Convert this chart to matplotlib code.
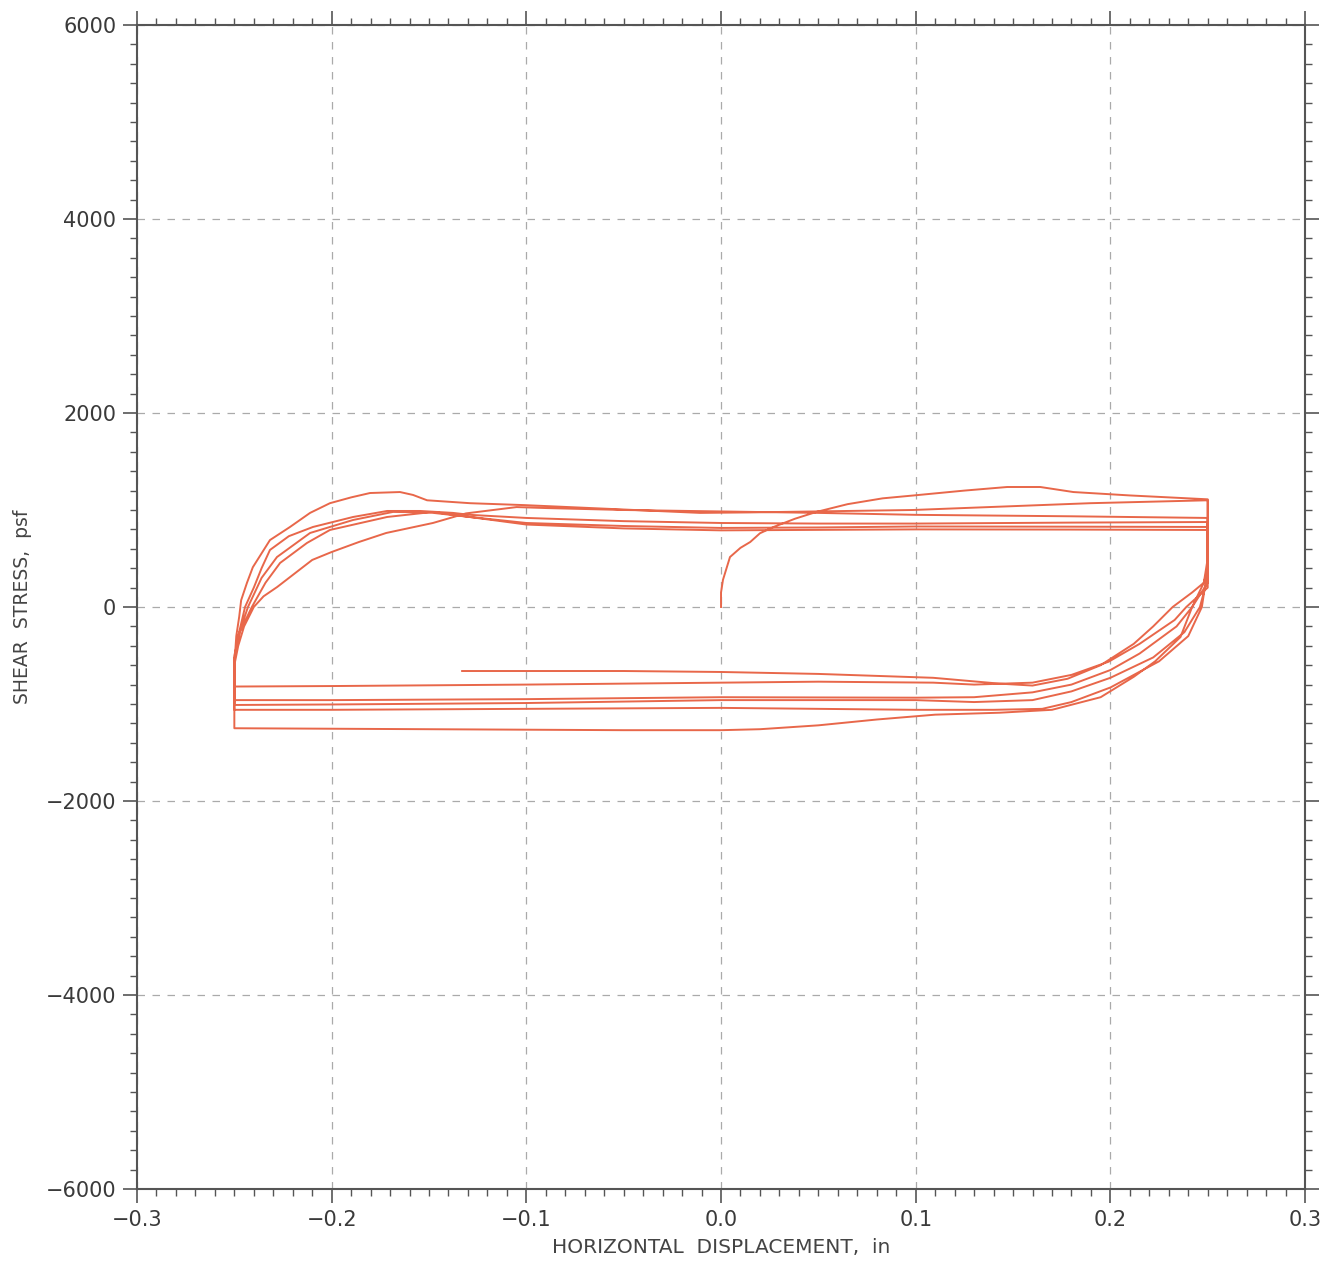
import numpy as np
import matplotlib
matplotlib.use("Agg")
import matplotlib.pyplot as plt
from matplotlib.ticker import MultipleLocator, FuncFormatter

# ---- data (horizontal displacement in, shear stress psf) ----
# cycle 1 loading to the right
r1_x = [0.0, 0.0, 0.001, 0.0046, 0.01, 0.015, 0.02, 0.027, 0.038, 0.049, 0.065, 0.083, 0.099, 0.125, 0.147, 0.164, 0.181, 0.21, 0.25]
r1_y = [0, 150, 280, 515, 610, 670, 760, 825, 910, 980, 1060, 1120, 1150, 1200, 1237, 1237, 1185, 1150, 1110]
# cycle 1 reversal to the left
l1_x = [0.25, 0.25, 0.248, 0.242, 0.236, 0.223, 0.212, 0.195, 0.17, 0.143, 0.11, 0.08, 0.05, 0.02, 0.0, -0.05, -0.1, -0.15, -0.2, -0.25]
l1_y = [1110, 500, 250, 0, -310, -560, -720, -930, -1060, -1090, -1110, -1160, -1220, -1260, -1270, -1270, -1265, -1260, -1255, -1250]
# cycle 2
r2_x = [-0.25, -0.25, -0.249, -0.2475, -0.2465, -0.2435, -0.2405, -0.2317, -0.2214, -0.2111, -0.2009, -0.19, -0.1803, -0.1649,
        -0.1582, -0.151, -0.1289, -0.1007, -0.0452, -0.0108, 0.0149, 0.0986, 0.1896, 0.25]
r2_y = [-1250, -600, -300, -100, 70, 250, 410, 690, 825, 970, 1070, 1130, 1175, 1185, 1155, 1100, 1070, 1050, 1000, 970, 975, 1000, 1070, 1100]
l2_x = [0.25, 0.25, 0.247, 0.24, 0.225, 0.2, 0.18, 0.165, 0.14, 0.1, 0.05, 0.0, -0.1, -0.2, -0.25]
l2_y = [1100, 400, 0, -300, -560, -830, -980, -1050, -1060, -1060, -1050, -1040, -1050, -1060, -1060]
# cycle 3
r3_x = [-0.25, -0.25, -0.248, -0.245, -0.24, -0.235, -0.228, -0.21, -0.2, -0.186, -0.172, -0.148, -0.131, -0.105,
        -0.09, -0.05, 0.0, 0.05, 0.1, 0.18, 0.25]
r3_y = [-1060, -600, -400, -200, 0, 110, 206, 485, 567, 670, 763, 866, 965, 1030, 1020, 1000, 985, 970, 950, 935, 918]
l3_x = [0.25, 0.25, 0.246, 0.238, 0.222, 0.2, 0.18, 0.16, 0.13, 0.1, 0.05, 0.0, -0.1, -0.2, -0.25]
l3_y = [918, 300, 0, -260, -520, -730, -870, -960, -980, -960, -960, -960, -990, -1005, -1010]
# cycle 4
r4_x = [-0.25, -0.25, -0.248, -0.2445, -0.24, -0.236, -0.2317, -0.222, -0.2096, -0.189, -0.1715, -0.1546, -0.1377, -0.129,
        -0.1, -0.05, 0.0, 0.05, 0.1, 0.18, 0.25]
r4_y = [-1010, -550, -300, 0, 200, 400, 588, 730, 825, 928, 990, 990, 970, 950, 918, 885, 866, 860, 860, 870, 876]
l4_x = [0.25, 0.25, 0.242, 0.234, 0.215, 0.2, 0.18, 0.16, 0.13, 0.1, 0.0, -0.1, -0.2, -0.25]
l4_y = [876, 250, 0, -200, -480, -650, -800, -880, -930, -935, -930, -950, -960, -960]
# cycle 5
r5_x = [-0.25, -0.25, -0.248, -0.243, -0.236, -0.2281, -0.2111, -0.189, -0.1685, -0.15, -0.13, -0.1,
        -0.05, 0.0, 0.05, 0.1, 0.18, 0.25]
r5_y = [-960, -550, -300, 0, 300, 515, 763, 897, 980, 975, 930, 866, 835, 815, 820, 830, 828, 825]
l5_x = [0.25, 0.25, 0.239, 0.233, 0.215, 0.199, 0.18, 0.16, 0.13, 0.109, 0.05, 0.0, -0.1, -0.2, -0.25]
l5_y = [825, 200, 0, -134, -380, -565, -700, -780, -800, -780, -770, -780, -800, -815, -820]
# cycle 6 (test stopped on the way back)
r6_x = [-0.25, -0.25, -0.247, -0.241, -0.234, -0.2265, -0.2127, -0.2009, -0.1715, -0.148, -0.13, -0.1,
        -0.05, 0.0, 0.05, 0.1, 0.18, 0.25]
r6_y = [-820, -500, -250, 0, 250, 454, 660, 794, 928, 980, 930, 850, 810, 790, 795, 800, 798, 794]
l6_x = [0.25, 0.25, 0.248, 0.242, 0.232, 0.222, 0.212, 0.195, 0.178, 0.16, 0.143, 0.109, 0.05, 0.0, -0.05, -0.1, -0.133]
l6_y = [794, 400, 250, 150, 0, -200, -380, -600, -740, -810, -790, -730, -690, -670, -660, -660, -660]

segments_x = [r1_x, l1_x, r2_x, l2_x, r3_x, l3_x, r4_x, l4_x, r5_x, l5_x, r6_x, l6_x]
segments_y = [r1_y, l1_y, r2_y, l2_y, r3_y, l3_y, r4_y, l4_y, r5_y, l5_y, r6_y, l6_y]
disp = np.concatenate(segments_x)
stress = np.concatenate(segments_y)

plt.rcParams['font.family'] = ['DejaVu Sans']

fig = plt.figure(figsize=(13.34, 12.68), dpi=100)
ax = fig.add_axes([0.1027, 0.0623, 0.8756, 0.918])

ax.plot(disp, stress, color='#e8674a', lw=1.4, zorder=3, solid_joinstyle='round')

ax.set_xlim(-0.3, 0.3)
ax.set_ylim(-6000, 6000)
ax.xaxis.set_major_locator(MultipleLocator(0.1))
ax.xaxis.set_minor_locator(MultipleLocator(0.01))
ax.yaxis.set_major_locator(MultipleLocator(2000))
ax.yaxis.set_minor_locator(MultipleLocator(200))
ax.xaxis.set_major_formatter(FuncFormatter(lambda v, p: f"{v:.1f}".replace('-', '\u2212') if abs(v) > 1e-9 else "0.0"))
ax.yaxis.set_major_formatter(FuncFormatter(lambda v, p: f"{int(round(v))}".replace('-', '\u2212')))

ax.tick_params(which='major', direction='out', length=10, width=1.2, color='#555555',
               labelsize=15, labelcolor='#3a3a3a', pad=5,
               top=True, right=True)
ax.tick_params(which='minor', direction='out', length=5, width=1.0, color='#555555',
               top=True, right=True)

ax.grid(True, which='major', linestyle=(0, (6, 6)), color='#aaaaaa', lw=0.9)
for s in ax.spines.values():
    s.set_color('#555555')
    s.set_linewidth(1.5)

ax.set_xlabel("HORIZONTAL  DISPLACEMENT,  in", fontsize=14.5, color='#444444', labelpad=6)
ax.set_ylabel("SHEAR  STRESS,  psf", fontsize=13.5, color='#444444', labelpad=10)

fig.savefig("out.png", dpi=100)
